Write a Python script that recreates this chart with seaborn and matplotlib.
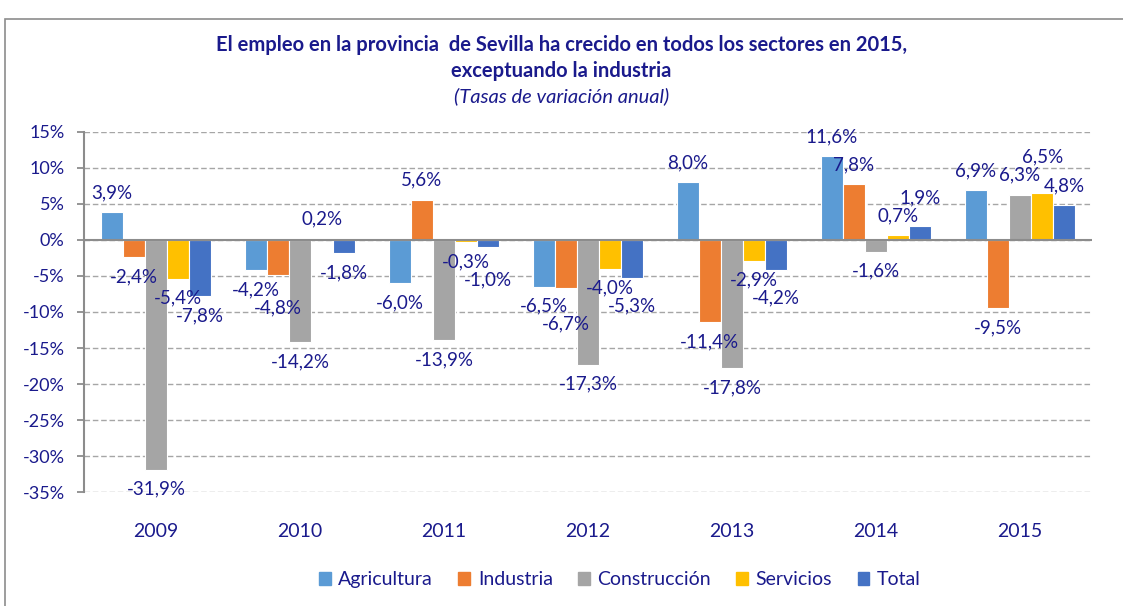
"""Empleo en la provincia de Sevilla: tasas de variación anual por sector."""
import pandas as pd
import seaborn as sns
import matplotlib.pyplot as plt
from matplotlib.patches import Rectangle
from matplotlib.ticker import FuncFormatter, MultipleLocator

years = ['2009', '2010', '2011', '2012', '2013', '2014', '2015']
sectors = ['Agricultura', 'Industria', 'Construcción', 'Servicios', 'Total']
agricultura = [3.9, -4.2, -6.0, -6.5, 8.0, 11.6, 6.9]
industria = [-2.4, -4.8, 5.6, -6.7, -11.4, 7.8, -9.5]
construccion = [-31.9, -14.2, -13.9, -17.3, -17.8, -1.6, 6.3]
servicios = [-5.4, 0.2, -0.3, -4.0, -2.9, 0.7, 6.5]
total = [-7.8, -1.8, -1.0, -5.3, -4.2, 1.9, 4.8]
colors = ['#5B9BD5', '#ED7D31', '#A5A5A5', '#FFC000', '#4472C4']

navy = '#1A1A8C'

# long table for seaborn
series = [agricultura, industria, construccion, servicios, total]
rows = []
for sector, vals in zip(sectors, series):
    for y, v in zip(years, vals):
        rows.append({'Año': y, 'Sector': sector, 'Tasa': v})
df = pd.DataFrame(rows)

sns.set_style('white')
plt.rcParams['font.family'] = ['Lato', 'DejaVu Sans']

fig = plt.figure(figsize=(11.23, 6.06), dpi=100)
ax = fig.add_axes([0.0748, 0.1881, 0.8976, 0.5941])

sns.barplot(data=df, x='Año', y='Tasa', hue='Sector', order=years,
            hue_order=sectors, palette=colors, saturation=1, width=0.77,
            gap=0, edgecolor='white', linewidth=0.8, errorbar=None, ax=ax,
            zorder=3)

# data labels outside the bar end, pushed further out when they
# would collide with the label of the neighbouring bar
pad, sep = 2.7, 2.5
for g in range(len(years)):
    placed = []
    for k, (cont, vals) in enumerate(zip(ax.containers, series)):
        v = vals[g]
        bar = cont.patches[g]
        sign = 1 if v >= 0 else -1
        y = v + sign * pad
        for kk, yy, ss in placed:
            if abs(kk - k) == 1 and ss == sign and abs(y - yy) < sep:
                y = yy + sign * sep
        placed.append((k, y, sign))
        ax.text(bar.get_x() + bar.get_width() / 2, y,
                f'{v:.1f}%'.replace('.', ','), ha='center', va='center',
                color=navy, fontsize=13.5, zorder=5)

ax.set_ylim(-35, 15)
ax.set_xlim(-0.5, len(years) - 0.5)
ax.yaxis.set_major_locator(MultipleLocator(5))
ax.yaxis.set_major_formatter(FuncFormatter(lambda v, p: f'{v:.0f}%'))
ax.grid(axis='y', linestyle=(0, (4, 2)), color='#A6A6A6', linewidth=1, zorder=0)
ax.axhline(0, color='#8C8C8C', linewidth=1.5, zorder=4)

for s in ['top', 'right']:
    ax.spines[s].set_visible(False)
ax.spines['left'].set_color('#8C8C8C')
ax.spines['left'].set_linewidth(1.5)
ax.spines['bottom'].set_position(('data', 0))
ax.spines['bottom'].set_visible(False)

# category boundary ticks on the zero line
ax.set_xticks([i + 0.5 for i in range(-1, len(years))])
ax.set_xticklabels([])
ax.tick_params(axis='x', length=5, width=1.3, color='#8C8C8C', direction='out')
ax.tick_params(axis='y', length=5, width=1.3, color='#8C8C8C', labelsize=13,
               labelcolor=navy, pad=9, left=True)
ax.set_xlabel('')
ax.set_ylabel('')

sec = ax.secondary_xaxis(0.0)
sec.set_xticks(range(len(years)), labels=years)
sec.tick_params(length=0, pad=22, labelsize=14, labelcolor=navy)
sec.spines['bottom'].set_visible(False)

ax.legend_.remove()
handles = [Rectangle((0, 0), 1, 1, color=c) for c in colors]
fig.legend(handles, sectors, loc='center', bbox_to_anchor=(0.552, 0.043),
           ncol=5, frameon=False, handlelength=0.6, handleheight=0.6,
           columnspacing=1.3, handletextpad=0.4, fontsize=14,
           labelcolor=navy)

fig.text(0.5, 0.925, 'El empleo en la provincia  de Sevilla ha crecido en todos los sectores en 2015,',
         ha='center', va='center', fontsize=14.5, fontweight='bold', color=navy)
fig.text(0.5, 0.883, 'exceptuando la industria', ha='center', va='center',
         fontsize=14.5, fontweight='bold', color=navy)
fig.text(0.5, 0.841, '(Tasas de variación anual)', ha='center', va='center',
         fontsize=14.5, style='italic', color=navy)

fig.add_artist(Rectangle((5 / 1123, -0.01), 1.0, 0.9885 - 0.01 + 0.0, fill=False,
                         edgecolor='#8C8C8C', linewidth=1.2,
                         transform=fig.transFigure))

fig.savefig('out.png', dpi=100)
